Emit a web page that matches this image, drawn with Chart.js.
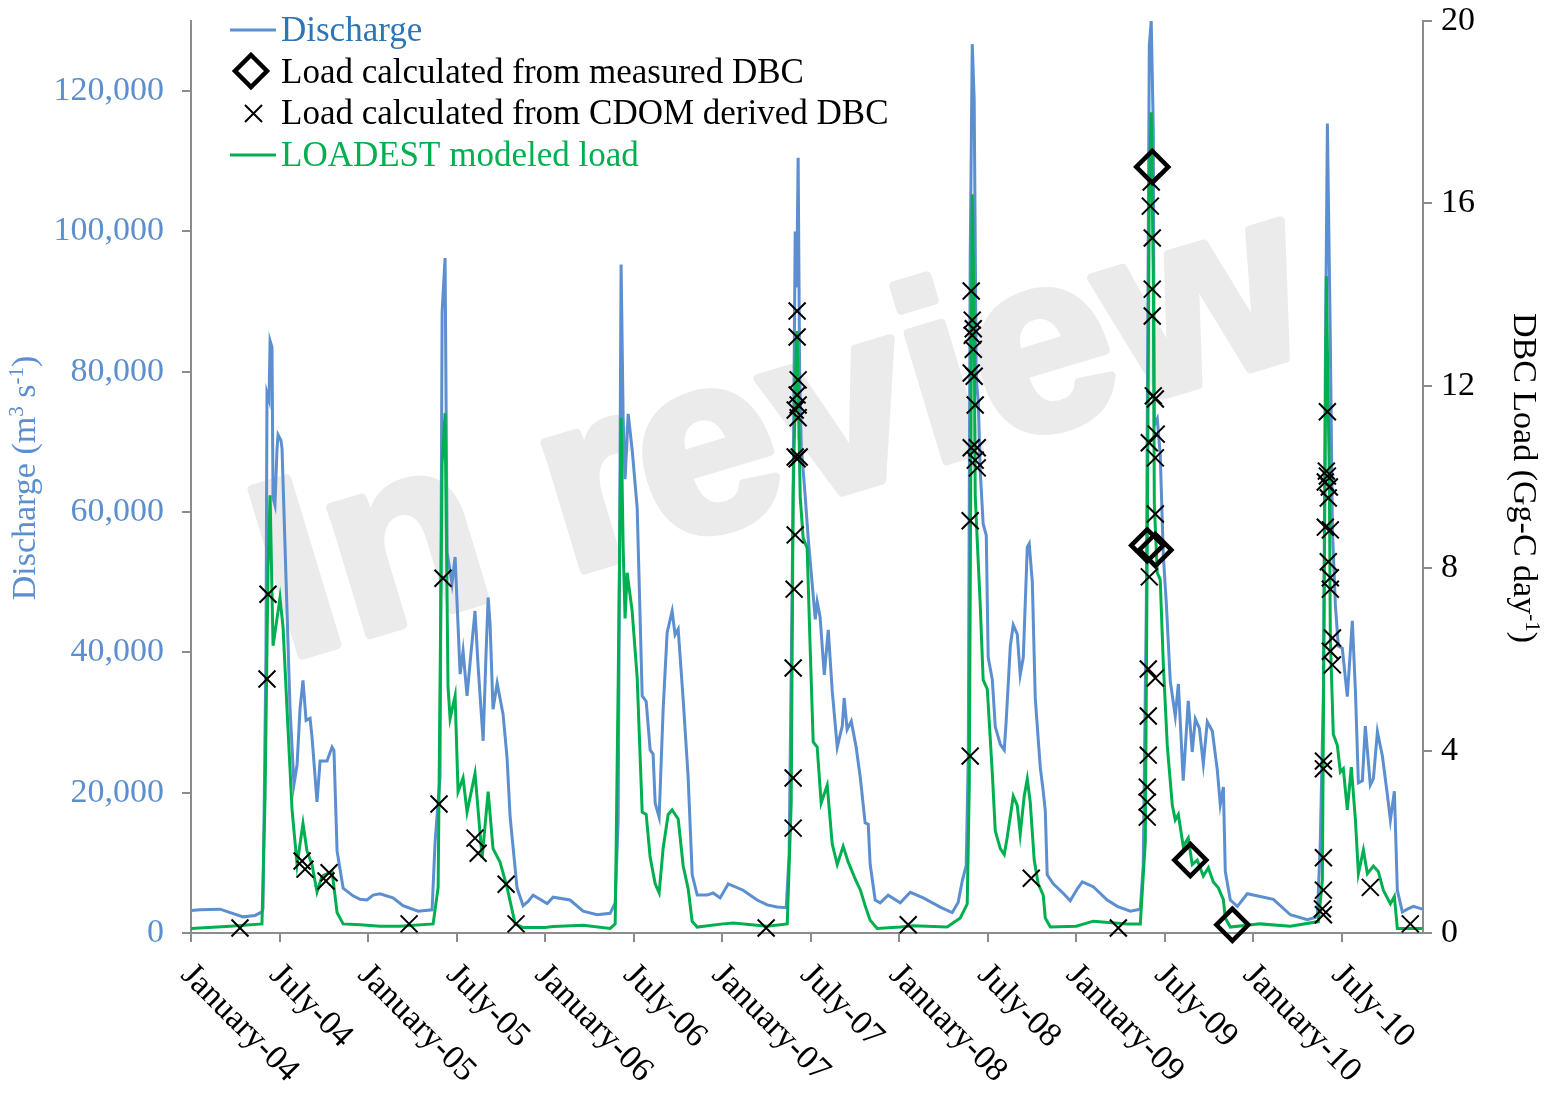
<!DOCTYPE html>
<html>
<head>
<meta charset="utf-8">
<script src="https://cdn.jsdelivr.net/npm/chart.js@4.4.1/dist/chart.umd.min.js"></script>
<style>
  html, body { margin: 0; padding: 0; background: #fff; }
</style>
</head>
<body>
<canvas id="myChart" width="1560" height="1096"></canvas>
<script>
// x values are months counted from January 2004 (0 = 1 Jan 2004)
const tickMonths = [0, 6, 12, 18, 24, 30, 36, 42, 48, 54, 60, 66, 72, 78];
const tickLabels = ["January-04", "July-04", "January-05", "July-05", "January-06", "July-06", "January-07",
  "July-07", "January-08", "July-08", "January-09", "July-09", "January-10", "July-10"];
const dischargeTicks = [0, 20000, 40000, 60000, 80000, 100000, 120000];
const loadTicks = [0, 4, 8, 12, 16, 20];

// discharge, m3 s-1 (left axis)
const dischargeMonth = [0, 0.61, 1.97, 3.53, 4.34, 4.81, 4.88, 5.08, 5.15, 5.29, 5.36, 5.49, 5.56, 5.69, 5.83, 5.9,
  6.1, 6.17, 6.37, 6.71, 6.98, 7.19, 7.39, 7.59, 7.8, 8.07, 8.2, 8.54, 8.75, 9.22, 9.56, 9.69, 9.9, 10.31, 10.98,
  11.46, 11.93, 12.34, 12.81, 13.69, 14.37, 15.39, 16.34, 16.54, 16.88, 17.02, 17.22, 17.36, 17.69, 17.9, 18.24,
  18.44, 18.71, 18.98, 19.25, 19.46, 19.8, 20.0, 20.14, 20.27, 20.47, 20.75, 21.15, 21.42, 21.63, 22.1, 22.51,
  22.85, 23.19, 24.14, 24.54, 25.69, 26.58, 27.53, 28.41, 28.75, 28.95, 29.15, 29.29, 29.42, 29.63, 29.9, 30.24,
  30.58, 30.85, 31.12, 31.32, 31.46, 31.73, 32.0, 32.27, 32.61, 32.81, 33.02, 33.36, 33.69, 33.97, 34.31, 34.98,
  35.39, 35.86, 36.41, 37.42, 38.37, 39.05, 39.73, 40.34, 40.54, 40.81, 40.95, 41.05, 41.15, 41.25, 41.36, 41.63,
  41.83, 42.1, 42.31, 42.44, 42.64, 42.92, 43.19, 43.46, 43.8, 44.14, 44.27, 44.47, 44.75, 45.08, 45.36, 45.69,
  45.9, 46.03, 46.37, 46.71, 47.25, 48.07, 48.75, 49.63, 50.78, 51.59, 52.0, 52.27, 52.54, 52.68, 52.81, 52.95,
  53.08, 53.22, 53.36, 53.49, 53.69, 53.9, 54.03, 54.31, 54.51, 54.85, 55.12, 55.25, 55.53, 55.73, 56.0, 56.2,
  56.41, 56.68, 56.81, 57.02, 57.22, 57.56, 57.76, 57.9, 58.03, 58.44, 59.05, 59.59, 60.07, 60.41, 61.15, 62.1,
  62.78, 63.66, 64.34, 64.54, 64.75, 64.81, 64.95, 65.08, 65.22, 65.29, 65.49, 65.69, 65.9, 66.1, 66.37, 66.71,
  66.92, 67.25, 67.59, 67.86, 68.07, 68.34, 68.61, 68.88, 69.22, 69.56, 69.76, 69.97, 70.1, 70.44, 70.92, 71.59,
  72.47, 73.36, 74.51, 75.66, 76.34, 76.54, 76.75, 76.88, 77.02, 77.08, 77.22, 77.36, 77.56, 77.76, 78.03, 78.37,
  78.71, 78.92, 79.12, 79.39, 79.59, 79.93, 80.14, 80.41, 80.75, 81.08, 81.29, 81.56, 81.76, 82.1, 82.44, 82.85,
  83.46];
const dischargeFlow = [3200, 3300, 3400, 2300, 2500, 3000, 3500, 40000, 77000, 76000, 84400, 83500, 62000, 61000,
  69000, 71000, 70200, 69000, 55300, 32100, 21200, 24000, 32000, 36000, 30300, 30600, 28000, 18700, 24500, 24500,
  26500, 26000, 11700, 6400, 5300, 4800, 4700, 5400, 5600, 5000, 3900, 3100, 3300, 12800, 22400, 88600, 96200,
  54200, 49800, 53600, 36900, 40200, 33800, 40000, 45900, 38000, 27400, 40000, 47800, 44000, 31900, 35600, 31200,
  25000, 16500, 6400, 3900, 4500, 5400, 4200, 5100, 4700, 3100, 2600, 2800, 4300, 16000, 95300, 73300, 64700,
  74000, 68900, 60600, 33800, 33000, 26100, 25500, 18500, 16500, 31900, 42800, 45900, 42500, 43300, 33200, 22400,
  8300, 5400, 5400, 5700, 5000, 7000, 6100, 4700, 4000, 3700, 3600, 11300, 62200, 100000, 92000, 110500, 80000,
  69400, 62200, 56300, 49800, 44700, 47200, 45000, 36800, 43200, 34500, 26500, 29500, 33500, 29000, 30200, 26500,
  22200, 15700, 15500, 9800, 4700, 4300, 5400, 4300, 5800, 5000, 3700, 2900, 4400, 7400, 9600, 25200, 95700,
  126700, 118800, 79100, 75700, 65900, 58300, 56700, 39300, 36100, 29400, 26900, 26100, 30200, 40900, 43900,
  42600, 36800, 39300, 55000, 55500, 50100, 33500, 23600, 20200, 17400, 8300, 7000, 5800, 4600, 6300, 7300, 6600,
  4700, 3800, 3100, 3400, 9700, 47100, 72400, 126500, 130000, 114700, 72400, 73300, 68200, 53800, 47100, 35900,
  30900, 35500, 21700, 33100, 25800, 30500, 29200, 24100, 30100, 28800, 23200, 18300, 20800, 8800, 4700, 3800,
  5600, 5200, 4800, 2600, 1900, 2300, 13000, 34500, 80400, 115400, 105800, 84300, 57500, 46800, 40900, 40600,
  33700, 44500, 34500, 21400, 21700, 29500, 21100, 22000, 28700, 25200, 19800, 16100, 20200, 6100, 3000, 3400,
  3800, 3400];

// LOADEST modeled load, Gg-C day-1 (right axis)
const loadMonth = [0, 2.64, 4.81, 5.02, 5.22, 5.36, 5.56, 5.83, 6.03, 6.24, 6.51, 6.85, 7.19, 7.59, 7.86, 8.2,
  8.54, 8.88, 9.56, 9.9, 10.31, 11.46, 12.81, 14.17, 16.41, 16.75, 17.02, 17.22, 17.42, 17.56, 17.9, 18.1, 18.44,
  18.71, 19.25, 19.73, 20.14, 20.47, 20.95, 21.42, 21.97, 22.51, 24.0, 24.54, 26.58, 28.41, 28.75, 28.95, 29.15,
  29.29, 29.42, 29.56, 29.9, 30.24, 30.58, 30.85, 31.12, 31.46, 31.73, 32.0, 32.34, 32.61, 33.02, 33.36, 33.69,
  33.97, 34.31, 36.07, 36.75, 39.05, 40.41, 40.68, 40.81, 41.02, 41.08, 41.29, 41.49, 41.76, 41.97, 42.17, 42.44,
  42.71, 43.12, 43.46, 43.8, 44.2, 44.54, 45.02, 45.36, 45.69, 46.03, 46.51, 48.07, 48.95, 51.25, 52.14, 52.61,
  52.75, 52.88, 52.95, 53.08, 53.15, 53.29, 53.49, 53.69, 53.97, 54.31, 54.51, 54.85, 55.12, 55.32, 55.73, 56.0,
  56.2, 56.47, 56.68, 56.88, 57.15, 57.42, 57.76, 57.9, 58.24, 60.0, 61.15, 63.46, 64.34, 64.68, 64.81, 64.95,
  65.08, 65.22, 65.29, 65.49, 65.69, 65.9, 66.17, 66.51, 66.71, 66.92, 67.25, 67.59, 67.86, 68.2, 68.61, 68.95,
  69.29, 69.63, 69.97, 70.1, 70.44, 72.47, 74.51, 76.41, 76.68, 76.81, 76.95, 77.02, 77.15, 77.22, 77.42, 77.69,
  77.9, 78.1, 78.37, 78.64, 78.92, 79.12, 79.46, 79.73, 80.14, 80.47, 80.81, 81.29, 81.56, 81.76, 83.46];
const loadModel = [0.1, 0.15, 0.2, 3.0, 8.0, 9.6, 6.3, 6.9, 7.35, 6.7, 4.9, 2.7, 1.5, 2.4, 1.8, 1.5, 0.9, 1.25,
  1.35, 0.45, 0.2, 0.18, 0.15, 0.15, 0.2, 1.0, 10.3, 11.4, 5.4, 4.7, 5.2, 3.1, 3.4, 2.65, 3.5, 1.65, 3.1, 1.85,
  1.55, 1.0, 0.2, 0.12, 0.12, 0.14, 0.17, 0.1, 0.2, 5.4, 11.3, 8.45, 6.9, 7.9, 7.06, 5.6, 2.65, 2.6, 1.66, 1.08,
  0.88, 1.86, 2.6, 2.7, 2.5, 1.47, 0.98, 0.25, 0.13, 0.2, 0.22, 0.15, 0.2, 2.85, 9.56, 12.9, 13.2, 9.56, 8.66,
  8.44, 6.2, 4.19, 4.08, 2.85, 3.24, 1.95, 1.5, 1.9, 1.56, 1.18, 0.95, 0.6, 0.28, 0.1, 0.13, 0.16, 0.13, 0.33,
  0.64, 3.25, 12.2, 16.2, 13.4, 9.6, 8.6, 7.2, 5.55, 5.35, 3.5, 2.24, 1.85, 1.72, 2.1, 3.0, 2.8, 2.17, 3.0, 3.38,
  2.87, 1.6, 1.08, 0.83, 0.33, 0.13, 0.15, 0.26, 0.2, 0.2, 2.0, 8.5, 16.3, 18.0, 14.4, 9.4, 7.9, 7.75, 5.9, 4.1,
  2.8, 2.48, 2.6, 1.9, 2.08, 1.5, 1.6, 1.25, 1.43, 1.12, 0.99, 0.73, 0.33, 0.13, 0.2, 0.15, 0.25, 1.16, 7.65,
  14.4, 12.85, 10.0, 6.47, 4.36, 4.12, 3.53, 3.6, 2.7, 3.64, 2.48, 1.3, 1.82, 1.3, 1.47, 1.35, 0.94, 0.64, 0.8,
  0.1, 0.1];

// load calculated from CDOM derived DBC, Gg-C day-1
const cdomMonth = [3.32, 5.15, 5.22, 7.53, 7.73, 9.15, 9.36, 14.78, 16.81, 17.08, 19.25, 19.46, 21.36, 22.03,
  38.98, 41.08, 41.08, 41.15, 41.08, 41.15, 40.95, 41.15, 40.95, 41.22, 41.08, 40.95, 40.88, 40.81, 40.81, 40.81,
  48.61, 52.88, 52.95, 53.02, 52.95, 53.02, 52.88, 53.08, 53.15, 52.88, 53.29, 53.15, 53.29, 52.81, 52.81, 56.95,
  62.85, 65.08, 65.02, 65.15, 65.15, 65.15, 65.22, 65.36, 65.42, 64.95, 65.36, 65.36, 64.95, 64.88, 65.36, 64.88,
  64.88, 64.81, 64.81, 64.81, 76.75, 76.68, 76.75, 76.75, 76.75, 76.75, 77.02, 76.95, 77.02, 76.88, 77.15, 77.08,
  76.88, 77.22, 77.08, 77.22, 77.22, 77.36, 77.22, 77.36, 79.93, 82.64];
const cdomLoad = [0.11, 5.57, 7.43, 1.58, 1.4, 1.14, 1.32, 0.2, 2.83, 7.78, 2.08, 1.75, 1.07, 0.2,
  0.11, 13.64, 13.07, 12.13, 11.8, 11.58, 11.47, 11.3, 10.44, 10.44, 10.4, 8.73, 7.54, 5.81, 3.4, 2.3,
  0.18, 14.08, 13.44, 13.25, 13.11, 12.8, 12.28, 12.21, 11.58, 10.64, 10.64, 10.37, 10.2, 9.04, 3.88, 1.2,
  0.11, 16.47, 15.94, 15.24, 14.12, 13.53, 11.78, 11.71, 10.94, 10.75, 10.42, 9.19, 7.81, 5.79, 5.59, 4.76,
  3.9, 3.2, 2.87, 2.54, 0.4, 0.53, 0.94, 1.65, 3.6, 3.77, 11.43, 10.13, 10.02, 9.89, 9.78, 9.54,
  8.9, 8.84, 8.14, 7.79, 7.54, 6.47, 6.18, 5.88, 1.0, 0.2];

// load calculated from measured DBC, Gg-C day-1
const measuredMonth = [65.15, 64.81, 65.36, 67.73, 70.58];
const measuredLoad = [16.8, 8.5, 8.4, 1.6, 0.18];

const serif = "'Liberation Serif', 'Times New Roman', serif";
const blue = "#5b8fcf";
const green = "#00b050";
const axisGray = "#8c8c8c";

function pairs(xs, ys) {
  return xs.map(function (x, i) { return { x: x, y: ys[i] }; });
}

// text with superscript pieces, centred on the current origin
function drawRich(ctx, parts, size, color) {
  ctx.fillStyle = color;
  ctx.textAlign = "left";
  ctx.textBaseline = "alphabetic";
  var total = 0;
  parts.forEach(function (p) {
    ctx.font = (p[1] ? size * 0.62 : size) + "px " + serif;
    total += ctx.measureText(p[0]).width;
  });
  var x = -total / 2;
  parts.forEach(function (p) {
    ctx.font = (p[1] ? size * 0.62 : size) + "px " + serif;
    ctx.fillText(p[0], x, p[1] ? -size * 0.36 : 0);
    x += ctx.measureText(p[0]).width;
  });
}

const watermark = {
  id: "watermark",
  beforeDatasetsDraw: function (chart) {
    var ctx = chart.ctx;
    ctx.save();
    ctx.translate(286, 660);
    ctx.rotate(-16.8 * Math.PI / 180);
    ctx.font = "bold 252px 'Liberation Sans', Arial, sans-serif";
    ctx.fillStyle = "#ebebeb";
    ctx.strokeStyle = "#ebebeb";
    ctx.lineWidth = 9;
    ctx.lineJoin = "round";
    ctx.textAlign = "left";
    ctx.textBaseline = "alphabetic";
    ctx.fillText("In review", 0, 0);
    ctx.strokeText("In review", 0, 0);
    ctx.restore();
  }
};

const extras = {
  id: "extras",
  afterDraw: function (chart) {
    var ctx = chart.ctx;
    var xs = chart.scales.x;
    ctx.save();
    // x tick labels, slanted down to the right
    ctx.font = "34px " + serif;
    ctx.fillStyle = "#000";
    ctx.textAlign = "left";
    ctx.textBaseline = "top";
    tickMonths.forEach(function (m, i) {
      var px = xs.getPixelForValue(m);
      ctx.save();
      ctx.translate(px + 7, 958);
      ctx.rotate(Math.PI / 4);
      ctx.fillText(tickLabels[i], 0, 0);
      ctx.restore();
    });

    // axis titles
    ctx.save();
    ctx.translate(35, 478);
    ctx.rotate(-Math.PI / 2);
    drawRich(ctx, [["Discharge (m", 0], ["3", 1], [" s", 0], ["-1", 1], [")", 0]], 34, blue);
    ctx.restore();

    ctx.save();
    ctx.translate(1514, 478);
    ctx.rotate(Math.PI / 2);
    drawRich(ctx, [["DBC Load (Gg-C day", 0], ["-1", 1], [")", 0]], 34, "#000");
    ctx.restore();

    // legend
    ctx.font = "35px " + serif;
    ctx.textBaseline = "alphabetic";
    ctx.lineWidth = 3;
    ctx.strokeStyle = blue;
    ctx.beginPath(); ctx.moveTo(230, 30); ctx.lineTo(276, 30); ctx.stroke();
    ctx.fillStyle = "#2e75b6";
    ctx.fillText("Discharge", 281, 41);

    ctx.strokeStyle = "#000";
    ctx.lineWidth = 4.5;
    ctx.beginPath();
    ctx.moveTo(251, 55); ctx.lineTo(267, 71); ctx.lineTo(251, 87); ctx.lineTo(235, 71); ctx.closePath();
    ctx.stroke();
    ctx.fillStyle = "#000";
    ctx.fillText("Load calculated from measured DBC", 281, 83);

    ctx.lineWidth = 2;
    ctx.beginPath();
    ctx.moveTo(245, 105); ctx.lineTo(262, 122);
    ctx.moveTo(262, 105); ctx.lineTo(245, 122);
    ctx.stroke();
    ctx.fillText("Load calculated from CDOM derived DBC", 281, 124);

    ctx.strokeStyle = green;
    ctx.lineWidth = 3;
    ctx.beginPath(); ctx.moveTo(230, 155); ctx.lineTo(276, 155); ctx.stroke();
    ctx.fillStyle = green;
    ctx.fillText("LOADEST modeled load", 281, 166);
    ctx.restore();
  }
};

function fixedTicks(values) {
  return function (scale) {
    scale.ticks = values.map(function (v) { return { value: v }; });
  };
}

// fixed box sizes so the plot area sits where it does in the figure
function fixWidth(w) {
  return function (s) { s.width = w; s.paddingTop = 0; s.paddingBottom = 0; };
}

const config = {
  type: "scatter",
  data: {
    datasets: [
      {
        type: "line",
        label: "Discharge",
        data: pairs(dischargeMonth, dischargeFlow),
        yAxisID: "y",
        borderColor: blue,
        borderWidth: 3,
        pointRadius: 0,
        tension: 0,
        order: 4
      },
      {
        type: "line",
        label: "LOADEST modeled load",
        data: pairs(loadMonth, loadModel),
        yAxisID: "y1",
        borderColor: green,
        borderWidth: 3,
        pointRadius: 0,
        tension: 0,
        order: 3
      },
      {
        label: "Load calculated from CDOM derived DBC",
        data: pairs(cdomMonth, cdomLoad),
        yAxisID: "y1",
        pointStyle: "crossRot",
        pointRadius: 12,
        borderColor: "#000",
        borderWidth: 2,
        clip: false,
        order: 2
      },
      {
        label: "Load calculated from measured DBC",
        data: pairs(measuredMonth, measuredLoad),
        yAxisID: "y1",
        pointStyle: "rectRot",
        pointRadius: 16,
        borderColor: "#000",
        backgroundColor: "rgba(0,0,0,0)",
        borderWidth: 4.5,
        clip: false,
        order: 1
      }
    ]
  },
  options: {
    responsive: false,
    animation: false,
    devicePixelRatio: 1,
    layout: { padding: { top: 21, left: 0, right: 0, bottom: 0 } },
    plugins: { legend: { display: false }, tooltip: { enabled: false } },
    scales: {
      x: {
        type: "linear",
        min: 0,
        max: 83.5,
        ticks: { display: false },
        afterBuildTicks: fixedTicks(tickMonths),
        grid: { drawOnChartArea: false, tickLength: 9, color: axisGray, lineWidth: 2 },
        border: { color: axisGray, width: 2 },
        afterFit: function (s) { s.height = 163; s.paddingLeft = 0; s.paddingRight = 0; }
      },
      y: {
        position: "left",
        min: 0,
        max: 130000,
        afterBuildTicks: fixedTicks(dischargeTicks),
        ticks: {
          color: blue,
          padding: 18,
          font: { family: serif, size: 34 },
          callback: function (v) { return v.toLocaleString("en-US"); }
        },
        grid: { drawOnChartArea: false, tickLength: 9, color: axisGray, lineWidth: 2 },
        border: { color: axisGray, width: 2 },
        afterFit: fixWidth(191)
      },
      y1: {
        position: "right",
        min: 0,
        max: 20,
        afterBuildTicks: fixedTicks(loadTicks),
        ticks: { color: "#000", padding: 9, font: { family: serif, size: 34 } },
        grid: { drawOnChartArea: false, tickLength: 9, color: axisGray, lineWidth: 2 },
        border: { color: axisGray, width: 2 },
        afterFit: fixWidth(137)
      }
    }
  },
  plugins: [watermark, extras]
};

const myChart = new Chart(document.getElementById("myChart"), config);
</script>
</body>
</html>
